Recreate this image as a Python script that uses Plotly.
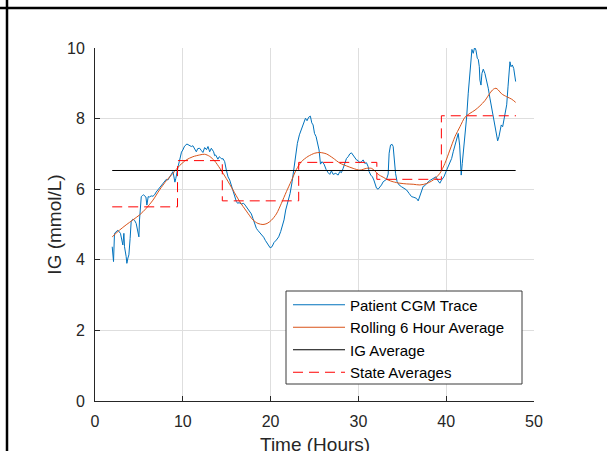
import plotly.graph_objects as go

# ---- data ----
cgm_time = [1.96, 2.11, 2.22, 2.45, 2.6, 2.9, 3.05, 3.17, 3.29, 3.36, 3.55, 3.63, 3.75, 3.86, 4.0,
            4.12, 4.31, 4.5, 4.69, 4.88, 5.0, 5.07, 5.17, 5.27, 5.4, 5.53, 5.7, 5.8, 5.91, 6.06,
            6.2, 6.4, 6.6, 6.78, 6.97, 7.17, 7.35, 7.55, 7.74, 7.92, 8.12, 8.3, 8.5, 8.69, 8.88,
            9.0, 9.1, 9.2, 9.33, 9.48, 9.6, 9.71, 9.85, 10.0, 10.2, 10.47, 10.6, 10.78, 10.97, 11.15,
            11.35, 11.54, 11.7, 11.92, 12.1, 12.29, 12.49, 12.7, 12.87, 13.06, 13.25, 13.4, 13.51, 13.63, 13.74,
            14.0, 14.15, 14.27, 14.45, 14.57, 14.77, 14.96, 15.15, 15.34, 15.53, 15.71, 15.9, 16.1, 16.25, 16.4,
            16.67, 16.93, 17.1, 17.24, 17.54, 17.81, 17.99, 18.19, 18.38, 18.56, 18.75, 18.95, 19.21, 19.4, 19.63,
            19.8, 19.95, 20.16, 20.39, 20.66, 20.92, 21.15, 21.34, 21.53, 21.72, 21.99, 22.22, 22.45, 22.68, 22.86,
            23.05, 23.28, 23.51, 23.74, 23.97, 24.15, 24.34, 24.53, 24.69, 24.84, 25.0, 25.18, 25.37, 25.52, 25.68,
            25.86, 26.09, 26.32, 26.55, 26.74, 26.93, 27.12, 27.42, 27.69, 27.88, 28.07, 28.26, 28.45, 28.64, 28.83,
            29.02, 29.21, 29.4, 29.59, 29.78, 29.97, 30.16, 30.35, 30.54, 30.73, 30.92, 31.11, 31.22, 31.41, 31.6,
            31.76, 31.9, 32.06, 32.25, 32.44, 32.63, 32.82, 33.01, 33.2, 33.39, 33.5, 33.66, 33.84, 33.96, 34.07,
            34.23, 34.41, 34.64, 34.91, 35.18, 35.48, 35.78, 36.05, 36.32, 36.62, 36.81, 37.0, 37.19, 37.38, 37.57,
            37.76, 37.95, 38.22, 38.52, 38.83, 39.09, 39.28, 39.47, 39.74, 40.05, 40.34, 40.62, 40.8, 41.11, 41.37,
            41.53, 41.64, 41.71, 41.83, 42.02, 42.21, 42.33, 42.51, 42.7, 42.82, 42.93, 43.08, 43.24, 43.39, 43.54,
            43.65, 43.77, 43.84, 43.96, 44.07, 44.22, 44.41, 44.61, 44.79, 44.98, 45.18, 45.36, 45.55, 45.75, 45.86,
            46.01, 46.12, 46.27, 46.43, 46.58, 46.73, 46.89, 47.04, 47.18, 47.26, 47.38, 47.53, 47.69, 47.8, 47.91]
cgm_ig = [4.37, 3.95, 4.75, 4.82, 4.84, 4.75, 4.6, 4.42, 4.75, 4.37, 4.09, 3.9, 4.05, 4.14, 4.6,
          5.08, 5.15, 5.12, 5.03, 4.8, 4.65, 5.13, 5.5, 5.79, 5.82, 5.84, 5.8, 5.78, 5.55, 5.79,
          5.78, 5.81, 5.8, 5.84, 5.92, 5.98, 6.05, 6.12, 6.18, 6.21, 6.28, 6.26, 6.33, 6.42, 6.5,
          6.35, 6.2, 6.3, 6.5, 6.66, 6.78, 6.92, 7.05, 7.11, 7.22, 7.28, 7.26, 7.25, 7.21, 7.23,
          7.16, 7.06, 7.15, 7.16, 7.1, 7.04, 7.18, 7.12, 7.21, 7.06, 7.16, 7.1, 7.06, 6.95, 6.97,
          6.85, 6.92, 6.9, 6.85, 6.87, 6.78, 6.54, 6.35, 6.26, 6.12, 5.98, 5.79, 5.65, 5.6, 5.62,
          5.58, 5.6, 5.55, 5.5, 5.41, 5.3, 5.17, 5.03, 4.89, 4.83, 4.78, 4.72, 4.64, 4.55, 4.45,
          4.38, 4.34, 4.37, 4.49, 4.56, 4.65, 4.8, 4.94, 5.13, 5.41, 5.65, 5.88, 6.21, 6.64, 6.97,
          7.3, 7.54, 7.68, 7.87, 8.01, 7.94, 8.04, 8.07, 7.88, 7.82, 7.58, 7.49, 7.3, 7.11, 6.71,
          6.78, 6.71, 6.56, 6.47, 6.42, 6.52, 6.42, 6.45, 6.4, 6.5, 6.47, 6.59, 6.73, 6.87, 6.92,
          7.0, 7.03, 6.97, 6.92, 6.83, 6.81, 6.75, 6.78, 6.83, 6.73, 6.75, 6.64, 6.5, 6.4, 6.35,
          6.26, 6.15, 6.03, 6.0, 6.05, 6.12, 6.21, 6.26, 6.28, 6.43, 7.02, 7.25, 7.27, 7.21, 6.83,
          6.45, 6.21, 6.12, 6.07, 6.03, 5.98, 5.88, 5.79, 5.77, 5.74, 5.67, 5.79, 5.95, 6.08, 6.1,
          6.17, 6.21, 6.26, 6.31, 6.35, 6.23, 6.17, 6.26, 6.35, 6.54, 6.69, 6.87, 7.06, 7.39, 7.58,
          7.25, 6.73, 6.4, 6.73, 7.21, 7.68, 8.05, 8.72, 9.38, 9.75, 9.96, 9.85, 10.02, 9.94, 9.71,
          9.68, 9.47, 9.09, 8.95, 9.28, 9.4, 9.28, 9.09, 8.86, 8.58, 8.29, 8.01, 7.73, 7.49, 7.37,
          7.49, 7.68, 7.82, 7.77, 8.01, 8.15, 8.39, 8.9, 9.47, 9.61, 9.47, 9.52, 9.42, 9.28, 9.05]

roll_time = [1.96, 2.79, 3.55, 4.31, 5.07, 5.84, 6.6, 7.35, 8.12, 8.88, 9.64, 10.4, 11.15, 11.92, 12.49,
             13.06, 13.63, 14.2, 14.96, 15.71, 16.48, 17.24, 17.99, 18.56, 19.13, 19.6, 20.09, 20.66, 21.23, 21.8,
             22.37, 22.94, 23.51, 24.27, 25.03, 25.6, 26.36, 27.12, 27.88, 28.64, 29.4, 30.16, 30.92, 31.49, 31.87,
             32.25, 32.82, 33.39, 33.96, 34.72, 35.48, 36.24, 37.0, 37.76, 38.52, 39.28, 39.85, 40.42, 41.0, 41.57,
             42.14, 42.71, 43.28, 43.84, 44.41, 44.98, 45.36, 45.67, 45.93, 46.32, 46.89, 47.46, 47.91]
roll_ig = [4.65, 4.84, 4.99, 5.13, 5.27, 5.46, 5.69, 5.98, 6.24, 6.45, 6.67, 6.83, 6.92, 6.97, 6.99,
           6.93, 6.8, 6.6, 6.3, 5.98, 5.65, 5.38, 5.13, 5.03, 5.0, 5.03, 5.12, 5.3, 5.6, 5.93,
           6.24, 6.56, 6.78, 6.93, 7.02, 7.04, 7.0, 6.88, 6.74, 6.66, 6.59, 6.54, 6.59, 6.59, 6.52,
           6.42, 6.34, 6.26, 6.21, 6.17, 6.15, 6.14, 6.12, 6.16, 6.26, 6.45, 6.73, 7.11, 7.49, 7.77,
           8.04, 8.15, 8.24, 8.36, 8.51, 8.72, 8.83, 8.86, 8.81, 8.7, 8.62, 8.55, 8.46]

avg_time = [1.96, 47.91]
avg_ig = [6.53, 6.53]

state_time = [1.96, 9.4, 14.5, 23.2, 32.1, 39.45, 47.95]
state_ig = [5.5, 6.81, 5.67, 6.76, 6.28, 8.08, 8.08]

x_ticks = [0, 10, 20, 30, 40, 50]
y_ticks = [0, 2, 4, 6, 8, 10]

FONT = "Liberation Sans, Arial, Helvetica, sans-serif"
AX = "#262626"
GRID = "#dedede"

fig = go.Figure()
fig.add_trace(go.Scatter(x=cgm_time, y=cgm_ig, mode="lines", name="Patient CGM Trace",
                         line=dict(color="#0072BD", width=1)))
fig.add_trace(go.Scatter(x=roll_time, y=roll_ig, mode="lines", name="Rolling 6 Hour Average",
                         line=dict(color="#D95319", width=1, shape="spline", smoothing=0.8)))
fig.add_trace(go.Scatter(x=avg_time, y=avg_ig, mode="lines", name="IG Average",
                         line=dict(color="#000000", width=1)))
fig.add_trace(go.Scatter(x=state_time, y=state_ig, mode="lines", name="State Averages",
                         line=dict(color="#FF0000", width=1, dash="10px,6px", shape="hv")))

# plot area in pixels: x 95..534, y 48..401
L, R, T, B = 95, 73, 48, 50
W, H = 607, 451
pw, ph = W - L - R, H - T - B
def px_x(p):
    return (p - L) / pw
def px_y(p):
    return (H - B - p) / ph

shapes = [
    # legend box (white, framed) drawn under the legend entries
    dict(type="rect", xref="paper", yref="paper", x0=px_x(286), x1=px_x(522), y0=px_y(384), y1=px_y(291),
         line=dict(color="#3a3a3a", width=1), fillcolor="white", layer="above"),
    # outer black frame pieces (top and left) seen in the reference crop
    dict(type="line", xref="paper", yref="paper", x0=px_x(0), x1=px_x(W), y0=px_y(8), y1=px_y(8),
         line=dict(color="#000000", width=2.5), layer="above"),
    dict(type="line", xref="paper", yref="paper", x0=px_x(7), x1=px_x(7), y0=px_y(0), y1=px_y(H),
         line=dict(color="#000000", width=2.5), layer="above"),
]

annotations = [
    # x-axis title, partly cut by the bottom edge as in the reference
    dict(text="Time (Hours)", xref="paper", yref="paper", x=0.5, y=px_y(444),
         xanchor="center", yanchor="middle", showarrow=False,
         font=dict(family=FONT, size=19, color=AX)),
]

fig.update_layout(
    width=W, height=H,
    margin=dict(l=L, r=R, t=T, b=B, pad=0),
    paper_bgcolor="white", plot_bgcolor="white",
    font=dict(family=FONT, color=AX, size=16),
    showlegend=True,
    legend=dict(x=px_x(288), y=px_y(288.5), xanchor="left", yanchor="top",
                bgcolor="rgba(0,0,0,0)", borderwidth=0,
                font=dict(family=FONT, size=15, color="#000000"),
                itemwidth=52, tracegroupgap=0),
    shapes=shapes,
    annotations=annotations,
    xaxis=dict(range=[0, 50], tickvals=x_ticks, ticktext=[str(v) for v in x_ticks],
               showgrid=True, gridcolor=GRID, gridwidth=1, zeroline=False,
               showline=True, linecolor=AX, linewidth=1,
               ticks="inside", ticklen=5, tickcolor=AX,
               tickfont=dict(size=16, color=AX), ticklabelstandoff=6,
               automargin=False, fixedrange=True),
    yaxis=dict(range=[0, 10], tickvals=y_ticks, ticktext=[str(v) for v in y_ticks],
               showgrid=True, gridcolor=GRID, gridwidth=1, zeroline=False,
               showline=True, linecolor=AX, linewidth=1,
               ticks="inside", ticklen=5, tickcolor=AX,
               tickfont=dict(size=16, color=AX), ticklabelstandoff=6,
               title=dict(text="IG (mmol/L)", font=dict(size=19, color=AX), standoff=0),
               automargin=False, fixedrange=True),
)

fig.write_html("out.html")
